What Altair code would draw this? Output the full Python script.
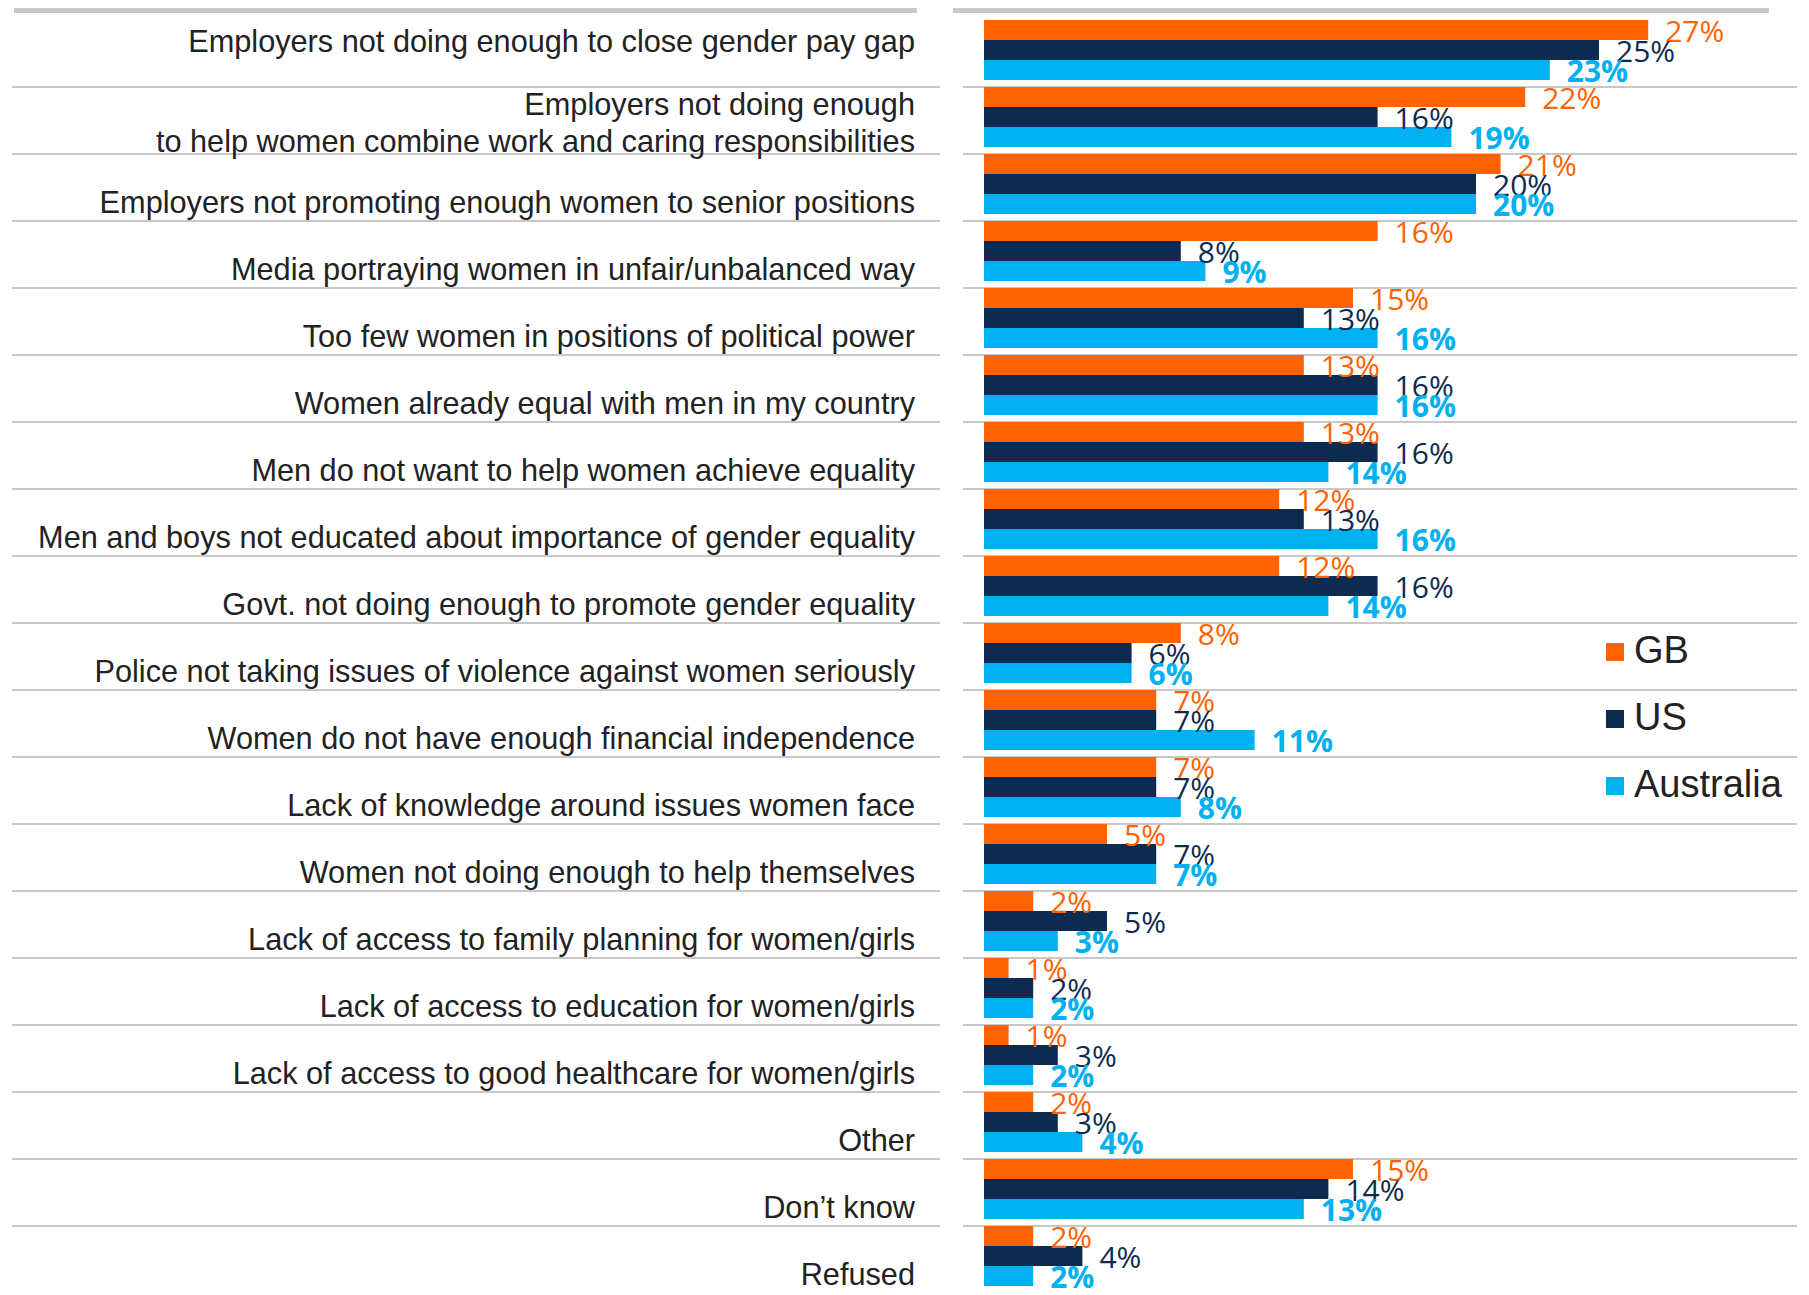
import altair as alt
import pandas as pd

categories = [
    "Employers not doing enough to close gender pay gap",
    "Employers not doing enough\nto help women combine work and caring responsibilities",
    "Employers not promoting enough women to senior positions",
    "Media portraying women in unfair/unbalanced way",
    "Too few women in positions of political power",
    "Women already equal with men in my country",
    "Men do not want to help women achieve equality",
    "Men and boys not educated about importance of gender equality",
    "Govt. not doing enough to promote gender equality",
    "Police not taking issues of violence against women seriously",
    "Women do not have enough financial independence",
    "Lack of knowledge around issues women face",
    "Women not doing enough to help themselves",
    "Lack of access to family planning for women/girls",
    "Lack of access to education for women/girls",
    "Lack of access to good healthcare for women/girls",
    "Other",
    "Don’t know",
    "Refused",
]
series = ["GB", "US", "Australia"]
gb_values = [27, 22, 21, 16, 15, 13, 13, 12, 12, 8, 7, 7, 5, 2, 1, 1, 2, 15, 2]
us_values = [25, 16, 20, 8, 13, 16, 16, 13, 16, 6, 7, 7, 7, 5, 2, 3, 3, 14, 4]
au_values = [23, 19, 20, 9, 16, 16, 14, 16, 14, 6, 11, 8, 7, 3, 2, 2, 4, 13, 2]
colors = ["#FF6200", "#0D2B4E", "#00B0F0"]

rows = []
for s, vals in zip(series, [gb_values, us_values, au_values]):
    for i, (c, v) in enumerate(zip(categories, vals)):
        rows.append({"category": c, "idx": i, "country": s, "value": v, "label": f"{v}%"})
df = pd.DataFrame(rows)
cat_df = pd.DataFrame({"category": categories, "idx": list(range(len(categories)))})
sep_df = cat_df[cat_df.idx > 0]
one = pd.DataFrame({"k": [0]})

STEP = 67
x_scale = alt.Scale(domain=[0, 27], range=[976, 976 + 27 * 24.6], nice=False, zero=True)
y_scale = alt.Scale(domain=categories, range=[12, 12 + 18 * STEP + 60],
                    paddingInner=7 / STEP, paddingOuter=0)
yoff_scale = alt.Scale(domain=series, paddingInner=0, paddingOuter=0)

Y = alt.Y("category:N", scale=y_scale, axis=None, sort=categories)
YO = alt.YOffset("country:N", scale=yoff_scale, sort=series)
X = alt.X("value:Q", scale=x_scale, axis=None)

bands = [
    alt.Chart(one).mark_rect(color="#C8C8C8").encode(
        x=alt.value(6), x2=alt.value(909), y=alt.value(0), y2=alt.value(5)),
    alt.Chart(one).mark_rect(color="#C8C8C8").encode(
        x=alt.value(945), x2=alt.value(1761), y=alt.value(0), y2=alt.value(5)),
]

sep_left = alt.Chart(sep_df).mark_rule(color="#C8C8C8", strokeWidth=2).encode(
    y=alt.Y("category:N", scale=y_scale, axis=None, sort=categories, bandPosition=0),
    x=alt.value(4), x2=alt.value(932))
sep_right = alt.Chart(sep_df).mark_rule(color="#C8C8C8", strokeWidth=2).encode(
    y=alt.Y("category:N", scale=y_scale, axis=None, sort=categories, bandPosition=0),
    x=alt.value(955), x2=alt.value(1789))

bars = alt.Chart(df).mark_bar().encode(
    x=X, y=Y, yOffset=YO,
    color=alt.Color("country:N", scale=alt.Scale(domain=series, range=colors),
                    legend=alt.Legend(title=None, orient="none", legendX=1588, legendY=625,
                                      symbolType="square", symbolSize=324,
                                      symbolStrokeWidth=0, labelFont="Liberation Sans",
                                      labelFontSize=38, labelColor="#222222",
                                      labelOffset=0, rowPadding=29)),
)

value_layers = []
for s, col in zip(series, colors):
    value_layers.append(
        alt.Chart(df).transform_filter(alt.datum.country == s).mark_text(
            align="left", baseline="alphabetic", dx=17, dy=12, font="Open Sans",
            fontSize=30, fontWeight="bold" if s == "Australia" else "normal", color=col,
        ).encode(x=X, y=Y, yOffset=YO, text="label:N")
    )

label_common = dict(align="right", baseline="alphabetic", font="Liberation Sans",
                    fontSize=30.7, color="#222222", lineBreak="\n", lineHeight=37)
lab0 = alt.Chart(cat_df).transform_filter(alt.datum.idx == 0).mark_text(dy=2, **label_common).encode(
    x=alt.value(907), y=Y, text="category:N")
lab1 = alt.Chart(cat_df).transform_filter(alt.datum.idx == 1).mark_text(dy=-2, **label_common).encode(
    x=alt.value(907), y=Y, text="category:N")
lab2 = alt.Chart(cat_df).transform_filter(alt.datum.idx >= 2).mark_text(dy=29, **label_common).encode(
    x=alt.value(907), y=Y, text="category:N")

chart = alt.layer(*bands, sep_left, sep_right, bars, *value_layers, lab0, lab1, lab2).properties(
    width=1793, height=1287, autosize=alt.AutoSizeParams(type="none"), padding=0,
    background="white",
).configure_view(stroke=None)

chart.save("out.html", embed_options={"renderer": "svg", "actions": False})
